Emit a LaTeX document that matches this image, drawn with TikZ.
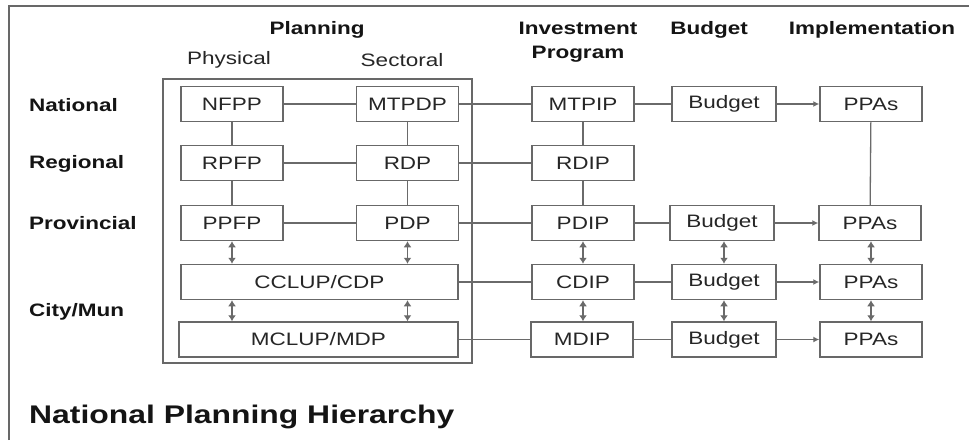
\documentclass[tikz,border=0pt]{standalone}
\usepackage{fontspec}
\setmainfont{Liberation Sans}[FakeStretch=1.25]
\usetikzlibrary{arrows.meta}
\definecolor{linec}{HTML}{6A6A6A}
\definecolor{boxc}{HTML}{686868}
\definecolor{txtc}{HTML}{262626}
\begin{document}
\begin{tikzpicture}[x=1pt,y=-1pt,
  box/.style={draw=boxc,line width=1.5pt,minimum width=102pt,minimum height=35pt,inner sep=0pt,
    text=txtc,font=\fontsize{18}{20}\selectfont},
  hdr/.style={font=\bfseries\fontsize{18}{24}\selectfont,text=black!92,inner sep=0pt},
  sub/.style={font=\fontsize{18}{20}\selectfont,text=txtc,inner sep=0pt},
  lvl/.style={font=\bfseries\fontsize{18}{20}\selectfont,text=black!92,inner sep=0pt,anchor=west},
  conn/.style={draw=linec,line width=1.3pt},
  harr/.style={conn,-{Latex[length=6pt,width=6pt]}},
  darr/.style={conn,{Latex[length=6pt,width=8pt]}-{Latex[length=6pt,width=8pt]}}]
\useasboundingbox (0,0) rectangle (969,440);
\fill[white] (0,0) rectangle (969,440);
% outer frame (top and left)
\draw[draw=boxc,line width=1.5pt] (9,440) -- (9,6) -- (969,6);
% inner planning box
\node[draw=boxc,line width=1.5pt,minimum width=309pt,minimum height=284pt,inner sep=0pt] (plan) at (317.5,221) {};
% headers
\node[hdr] (hPlan) at (317,30) {Planning};
\node[sub] (hPhys) at (229,60) {Physical};
\node[sub] (hSect) at (402,60) {Sectoral};
\node[hdr,align=center] (hInv) at (578,42) {Investment\\Program};
\node[hdr] (hBud) at (709,30) {Budget};
\node[hdr] (hImp) at (872,30) {Implementation};
% level labels
\node[lvl] (lNat) at (29,105) {National};
\node[lvl] (lReg) at (29,164) {Regional};
\node[lvl] (lProv) at (29,223) {Provincial};
\node[lvl] (lCity) at (29,312) {City/Mun};
\node[anchor=west,inner sep=0pt,font=\bfseries\fontsize{25.5}{28}\selectfont,text=black!92] (title) at (29,417) {National Planning Hierarchy};
% planning boxes
\node[box] (nfpp) at (232,104) {NFPP};
\node[box] (mtpdp) at (407.5,104) {MTPDP};
\node[box] (rpfp) at (232,163) {RPFP};
\node[box] (rdp) at (407.5,163) {RDP};
\node[box] (ppfp) at (232,223) {PPFP};
\node[box] (pdp) at (407.5,223) {PDP};
\node[box,minimum width=277pt] (cclup) at (319.5,282) {CCLUP/CDP};
\node[box,minimum width=279pt] (mclup) at (318.5,339.5) {MCLUP/MDP};
% investment
\node[box] (mtpip) at (583,104) {MTPIP};
\node[box] (rdip) at (583,163) {RDIP};
\node[box] (pdip) at (583,223) {PDIP};
\node[box] (cdip) at (583,282) {CDIP};
\node[box] (mdip) at (582,339.5) {MDIP};
% budget
\node[box,minimum width=104pt] (bud1) at (724,104) {Budget};
\node[box,minimum width=104pt] (bud2) at (722,223) {Budget};
\node[box,minimum width=104pt] (bud3) at (724,282) {Budget};
\node[box,minimum width=104pt] (bud4) at (724,339.5) {Budget};
% implementation
\node[box] (ppa1) at (871,104) {PPAs};
\node[box] (ppa2) at (870,223) {PPAs};
\node[box] (ppa3) at (871,282) {PPAs};
\node[box] (ppa4) at (871,339.5) {PPAs};
% horizontal connectors
\draw[conn] (nfpp) -- (mtpdp);
\draw[conn] (mtpdp) -- (mtpip);
\draw[conn] (mtpip) -- (bud1);
\draw[harr] (bud1) -- (ppa1);
\draw[conn] (rpfp) -- (rdp);
\draw[conn] (rdp) -- (rdip);
\draw[conn] (ppfp) -- (pdp);
\draw[conn] (pdp) -- (pdip);
\draw[conn] (pdip) -- (bud2);
\draw[harr] (bud2) -- (ppa2);
\draw[conn] (cclup) -- (cdip);
\draw[conn] (cdip) -- (bud3);
\draw[harr] (bud3) -- (ppa3);
\draw[conn] (mclup) -- (mdip);
\draw[conn] (mdip) -- (bud4);
\draw[harr] (bud4) -- (ppa4);
% vertical connectors
\draw[conn] (nfpp) -- (rpfp);
\draw[conn] (rpfp) -- (ppfp);
\draw[conn] (mtpdp) -- (rdp);
\draw[conn] (rdp) -- (pdp);
\draw[conn] (mtpip) -- (rdip);
\draw[conn] (rdip) -- (pdip);
\draw[conn] (ppa1) -- (ppa2);
% double arrows
\draw[darr] (ppfp.south) -- (ppfp.south |- cclup.north);
\draw[darr] (pdp.south) -- (pdp.south |- cclup.north);
\draw[darr] (cclup.south -| ppfp.south) -- (mclup.north -| ppfp.south);
\draw[darr] (cclup.south -| pdp.south) -- (mclup.north -| pdp.south);
\draw[darr] (pdip) -- (cdip);
\draw[darr] (cdip) -- (cdip.south |- mdip.north);
\draw[darr] (bud2.south -| bud3.south) -- (bud3);
\draw[darr] (bud3) -- (bud4);
\draw[darr] (ppa2.south -| ppa3.south) -- (ppa3);
\draw[darr] (ppa3) -- (ppa4);
\end{tikzpicture}
\end{document}
